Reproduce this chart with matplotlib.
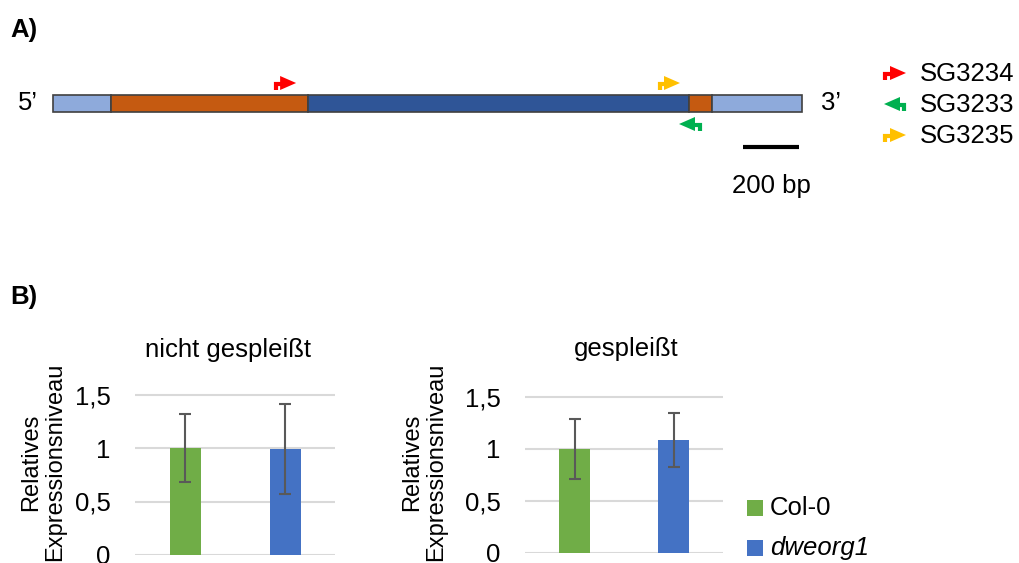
"""Gene model with primer positions (A) and relative expression bars (B)."""

import matplotlib.pyplot as plt
from matplotlib.patches import Polygon, Rectangle

plt.rcParams["font.family"] = ["Liberation Sans", "DejaVu Sans"]

W, H = 1019, 563
FS = 18.5

# gene structure in bp, 5' -> 3'
segment_names = ["5'UTR", "Exon 1", "Intron", "Exon 2", "3'UTR"]
segment_bp = [207, 704, 1361, 82, 321]
segment_colors = ["#8EAADB", "#C55A11", "#2F5597", "#C55A11", "#8EAADB"]

# primers: centre position in bp, strand, colour
primer_names = ["SG3234", "SG3233", "SG3235"]
primer_center_bp = [829, 2275, 2200]
primer_strand = [1, -1, 1]
primer_colors = ["#FF0000", "#00B050", "#FFC000"]
scale_bp = 200

# expression data
genotypes = ["Col-0", "dweorg1"]
bar_colors = ["#70AD47", "#4472C4"]
unspliced_mean = [1.0, 0.99]
unspliced_err = [0.32, 0.42]
spliced_mean = [1.0, 1.09]
spliced_err = [0.29, 0.26]
y_ticks = [0, 0.5, 1, 1.5]
y_tick_labels = ["0", "0,5", "1", "1,5"]

# layout (pixels)
GENE_X0 = 53
PX_PER_BP = 0.28
GENE_Y, GENE_H = 95, 17


def bp_to_px(bp):
    return GENE_X0 + bp * PX_PER_BP


def draw_primer(ax, xc, yc, strand, color, w=22, h=14):
    """Bent primer arrow: triangular head with a hooked tail."""
    s = strand
    head_base = xc + s * (w / 2 - 16)
    tip = xc + s * w / 2
    tri = Polygon(
        [(head_base, yc - h / 2), (tip, yc), (head_base, yc + h / 2)],
        closed=True, facecolor=color, edgecolor="none",
    )
    ax.add_patch(tri)
    tail_x = xc - s * (w / 2 - 1.5)
    ax.plot(
        [head_base + s * 1, tail_x, tail_x],
        [yc + 1, yc + 1, yc + 7],
        color=color, lw=3, solid_capstyle="butt", solid_joinstyle="miter",
    )


def bar_panel(rect, means, errs):
    ax = fig.add_axes(rect)
    x = list(range(len(genotypes)))
    ax.bar(x, means, width=0.31, color=bar_colors, zorder=3)
    ax.errorbar(
        x, means, yerr=errs, fmt="none", ecolor="#595959",
        elinewidth=1.5, capsize=4.5, capthick=1.5, zorder=4,
    )
    ax.set_xlim(-0.5, 1.5)
    ax.set_ylim(0, 1.6)
    ax.set_yticks(y_ticks)
    ax.set_yticklabels(y_tick_labels)
    ax.grid(axis="y", color="#D9D9D9", lw=1.5, zorder=0)
    ax.tick_params(left=False, bottom=False, labelbottom=False,
                   labelsize=FS, pad=14, labelcolor="#000000")
    for spine in ax.spines.values():
        spine.set_visible(False)
    ax.patch.set_alpha(0)
    return ax


fig = plt.figure(figsize=(W / 100, H / 100), dpi=100)

# overlay in pixel coordinates for the diagram and free text
ov = fig.add_axes([0, 0, 1, 1])
ov.set_xlim(0, W)
ov.set_ylim(H, 0)
ov.axis("off")

ov.text(10, 30, "A)", fontsize=FS, fontweight="bold", va="center", ha="left")
ov.text(10, 297, "B)", fontsize=FS, fontweight="bold", va="center", ha="left")

start = 0
for length, color in zip(segment_bp, segment_colors):
    ov.add_patch(Rectangle(
        (bp_to_px(start), GENE_Y), length * PX_PER_BP, GENE_H,
        facecolor=color, edgecolor="#404040", lw=1.2,
    ))
    start += length
gene_end_px = bp_to_px(start)
mid_y = GENE_Y + GENE_H / 2
ov.text(GENE_X0 - 25, mid_y, "5\u2019", fontsize=FS, ha="center", va="center")
ov.text(gene_end_px + 29, mid_y, "3\u2019", fontsize=FS, ha="center", va="center")

for center, strand, color in zip(primer_center_bp, primer_strand, primer_colors):
    y = GENE_Y - 12 if strand > 0 else GENE_Y + GENE_H + 12
    draw_primer(ov, bp_to_px(center), y, strand, color)

# scale bar
sb_x0 = 743
ov.plot([sb_x0, sb_x0 + scale_bp * PX_PER_BP], [147, 147], color="black", lw=3,
        solid_capstyle="butt")
ov.text(sb_x0 + scale_bp * PX_PER_BP / 2, 186, f"{scale_bp} bp", fontsize=FS,
        ha="center", va="center")

# primer legend
for i, (name, strand, color) in enumerate(zip(primer_names, primer_strand, primer_colors)):
    y = 73 + i * 31
    draw_primer(ov, 895, y, strand, color)
    ov.text(920, y + 1, name, fontsize=FS, ha="left", va="center")

# bar charts
left = bar_panel([135 / W, (H - 555) / H, 200 / W, 1.6 * 107 / H],
                 unspliced_mean, unspliced_err)
right = bar_panel([525 / W, (H - 553) / H, 198 / W, 1.6 * 104 / H],
                  spliced_mean, spliced_err)

ov.text(228, 357, "nicht gespleißt", fontsize=FS, ha="center", va="baseline")
ov.text(626, 356, "gespleißt", fontsize=FS, ha="center", va="baseline")
for xc in (43, 424):
    ov.text(xc, 462, "Relatives\nExpressionsniveau", fontsize=17, rotation=90,
            ha="center", va="center", multialignment="center", linespacing=1.1)

# genotype legend
for i, (name, color) in enumerate(zip(genotypes, bar_colors)):
    y = 508 + i * 40
    ov.add_patch(Rectangle((747, y - 8), 16, 16, facecolor=color, edgecolor="none"))
    ov.text(770, y, name, fontsize=FS, ha="left", va="center",
            fontstyle="italic" if i == 1 else "normal")

fig.savefig("out.png", dpi=100)
